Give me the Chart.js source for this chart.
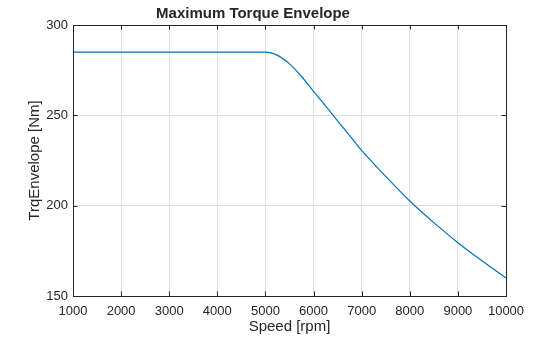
<!DOCTYPE html>
<html>
<head>
<meta charset="utf-8">
<script src="https://cdn.jsdelivr.net/npm/chart.js@4/dist/chart.umd.min.js"></script>
<style>
  html, body { margin: 0; padding: 0; background: #fff; }
  canvas { display: block; }
</style>
</head>
<body>
<canvas id="torqueChart" width="560" height="337"></canvas>
<script>

// speed [rpm] and torque envelope [Nm]
const speeds = [1000, 5000, 5250, 5500, 5750, 6000, 6250, 6500, 6750, 7000, 7500, 8000, 8500, 9000, 9500, 10000];

const torques = [285, 285, 283.2, 278.5, 271.5, 263.2, 255.2, 247, 238.8, 230.6, 216.2, 202.6, 190.6, 179.5, 169.5, 160];

const xTicks = [1000, 2000, 3000, 4000, 5000, 6000, 7000, 8000, 9000, 10000];

const yTicks = [150, 200, 250, 300];

const axisColor = '#262626';

const fontFamily = '"Liberation Sans", Arial, sans-serif';

// box round the axes plus inward tick marks on all four sides
const boxPlugin = {

  id: 'boxPlugin',

  afterDraw(chart) {

    const ctx = chart.ctx;
    const area = chart.chartArea;
    const xs = chart.scales.x;
    const ys = chart.scales.y;
    const len = 4.5;

    ctx.save();

    ctx.strokeStyle = axisColor;
    ctx.lineWidth = 1;

    ctx.beginPath();

    xTicks.forEach(v => {

      const px = Math.round(xs.getPixelForValue(v)) + 0.5;

      ctx.moveTo(px, area.bottom);
      ctx.lineTo(px, area.bottom - len);

      ctx.moveTo(px, area.top);
      ctx.lineTo(px, area.top + len);
    });

    yTicks.forEach(v => {

      const py = Math.round(ys.getPixelForValue(v)) + 0.5;

      ctx.moveTo(area.left, py);
      ctx.lineTo(area.left + len, py);

      ctx.moveTo(area.right, py);
      ctx.lineTo(area.right - len, py);
    });

    ctx.stroke();

    ctx.strokeRect(
      Math.round(area.left) + 0.5,
      Math.round(area.top) + 0.5,
      Math.round(area.right - area.left),
      Math.round(area.bottom - area.top)
    );

    ctx.restore();
  }
};

new Chart(
  document.getElementById('torqueChart'),
  {
    type: 'line',

    data: {

      datasets: [{

        label: 'TrqEnvelope',

        data: speeds.map((s, i) => ({ x: s, y: torques[i] })),

        borderColor: '#0072BD',

        borderWidth: 1.2,

        pointRadius: 0,

        cubicInterpolationMode: 'monotone',

        fill: false
      }]
    },

    options: {

      responsive: false,

      animation: false,

      layout: {

        padding: { left: 0, right: 54, top: 0, bottom: 0 }
      },

      plugins: {

        legend: { display: false },

        tooltip: { enabled: false },

        title: {

          display: true,

          text: 'Maximum Torque Envelope',

          color: axisColor,

          font: { family: fontFamily, size: 15, weight: 'bold', lineHeight: 1.2 },

          padding: { top: 5, bottom: 2 }
        }
      },

      scales: {

        x: {

          type: 'linear',

          min: 1000,

          max: 10000,

          afterBuildTicks(scale) {

            scale.ticks = xTicks.map(v => ({ value: v }));
          },

          afterFit(scale) {

            scale.height = 41;
          },

          grid: {

            color: '#dfdfdf',

            drawTicks: false
          },

          border: { display: false },

          ticks: {

            color: axisColor,

            padding: 8,

            maxRotation: 0,

            font: { family: fontFamily, size: 13 },

            callback: v => String(v)
          },

          title: {

            display: true,

            text: 'Speed [rpm]',

            color: axisColor,

            font: { family: fontFamily, size: 15, lineHeight: 1.2 },

            padding: { top: 0, bottom: 1 }
          }
        },

        y: {

          type: 'linear',

          min: 150,

          max: 300,

          afterBuildTicks(scale) {

            scale.ticks = yTicks.map(v => ({ value: v }));
          },

          afterFit(scale) {

            scale.width = 73;
          },

          grid: {

            color: '#dfdfdf',

            drawTicks: false
          },

          border: { display: false },

          ticks: {

            color: axisColor,

            padding: 5,

            font: { family: fontFamily, size: 13 },

            callback: v => String(v)
          },

          title: {

            display: true,

            text: 'TrqEnvelope [Nm]',

            color: axisColor,

            font: { family: fontFamily, size: 15, lineHeight: 1.2 },

            padding: { top: 25.5, bottom: 0 }
          }
        }
      }
    },

    plugins: [boxPlugin]
  }
);

</script>
</body>
</html>
